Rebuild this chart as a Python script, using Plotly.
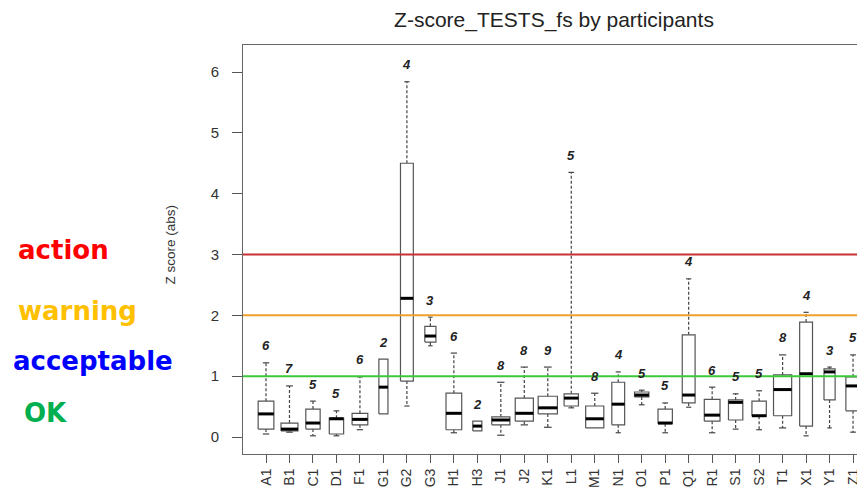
import plotly.graph_objects as go
import math

participants = ["A1","B1","C1","D1","F1","G1","G2","G3","H1","H3","J1","J2","K1",
                "L1","M1","N1","O1","P1","Q1","R1","S1","S2","T1","X1","Y1","Z1"]
n_tests = [6,7,5,5,6,2,4,3,6,2,8,8,9,5,8,4,5,5,4,6,5,5,8,4,3,5]
lower_whisker = [0.05,0.08,0.02,0.02,0.12,0.38,0.51,1.50,0.07,0.10,0.03,0.20,0.16,
                 0.48,0.15,0.07,0.53,0.07,0.49,0.07,0.13,0.12,0.15,0.02,0.15,0.08]
q1 = [0.13,0.10,0.13,0.05,0.20,0.38,0.92,1.56,0.12,0.10,0.20,0.26,0.38,
      0.51,0.15,0.20,0.66,0.22,0.56,0.26,0.28,0.34,0.35,0.18,0.61,0.43]
median = [0.38,0.13,0.23,0.30,0.29,0.82,2.28,1.66,0.39,0.18,0.28,0.39,0.48,
          0.64,0.30,0.54,0.69,0.23,0.69,0.36,0.57,0.35,0.78,1.04,1.07,0.84]
q3 = [0.59,0.23,0.46,0.31,0.39,1.28,4.50,1.82,0.72,0.26,0.33,0.64,0.67,
      0.71,0.51,0.90,0.74,0.46,1.68,0.62,0.61,0.59,1.02,1.89,1.12,0.99]
upper_whisker = [1.22,0.84,0.59,0.43,0.99,1.28,5.84,1.97,1.38,0.26,0.90,1.15,1.15,
                 4.35,0.72,1.07,0.77,0.56,2.60,0.82,0.71,0.76,1.35,2.05,1.15,1.35]

thresholds = [3, 2, 1]
threshold_colors = ["#c83232", "#f0a028", "#3cc83c"]
legend_texts = ["action", "warning", "acceptable", "OK"]
legend_colors = ["#ff0000", "#ffc000", "#0000ff", "#00b050"]

max_n = max(n_tests)
bx, by, medx, medy, wx, wy, cx, cy = [], [], [], [], [], [], [], []
for i, p in enumerate(participants):
    x = i + 1
    hw = 0.41 * math.sqrt(n_tests[i] / max_n)
    cw = hw * 0.4
    bx += [x - hw, x + hw, x + hw, x - hw, x - hw, None]
    by += [q1[i], q1[i], q3[i], q3[i], q1[i], None]
    medx += [x - hw, x + hw, None]
    medy += [median[i], median[i], None]
    if upper_whisker[i] > q3[i]:
        wx += [x, x, None]; wy += [q3[i], upper_whisker[i], None]
        cx += [x - cw, x + cw, None]; cy += [upper_whisker[i], upper_whisker[i], None]
    if lower_whisker[i] < q1[i]:
        wx += [x, x, None]; wy += [q1[i], lower_whisker[i], None]
        cx += [x - cw, x + cw, None]; cy += [lower_whisker[i], lower_whisker[i], None]

fig = go.Figure()
fig.add_trace(go.Scatter(x=wx, y=wy, mode="lines", line=dict(color="#444", width=1.2, dash="3px,2px"),
                         hoverinfo="skip", showlegend=False))
fig.add_trace(go.Scatter(x=cx, y=cy, mode="lines", line=dict(color="#444", width=1.2),
                         hoverinfo="skip", showlegend=False))
fig.add_trace(go.Scatter(x=bx, y=by, mode="lines", fill="toself", fillcolor="white",
                         line=dict(color="#555", width=1.2), hoverinfo="skip", showlegend=False))
fig.add_trace(go.Scatter(x=medx, y=medy, mode="lines", line=dict(color="black", width=3),
                         hoverinfo="skip", showlegend=False))

for t, c in zip(thresholds, threshold_colors):
    fig.add_shape(type="line", xref="paper", x0=0, x1=1, yref="y", y0=t, y1=t,
                  line=dict(color=c, width=2), layer="above")

for i, p in enumerate(participants):
    top = max(upper_whisker[i], q3[i])
    fig.add_annotation(x=i + 1, y=top, text="<b><i>%d</i></b>" % n_tests[i], showarrow=False,
                       yshift=17, font=dict(family="Liberation Sans", size=13, color="#222"))

# page body has an 8px default margin; layout below is in figure pixels
OFF = 8
W, H = 865, 488
L, R, T = 243 - OFF, 0, 45 - OFF
B = H - (454 - OFF)
PW = W - L - R
PH = H - T - B
def px2paper(screen_px):
    return (screen_px - OFF - L) / PW

legend_y = [3.08, 2.07, 1.25, 0.39]
legend_x = [16, 16, 11, 22]
for txt, col, yy, xx in zip(legend_texts, legend_colors, legend_y, legend_x):
    fig.add_annotation(xref="paper", x=px2paper(xx), xanchor="left", yref="y", y=yy,
                       text="<b>%s</b>" % txt, showarrow=False,
                       font=dict(family="DejaVu Sans", size=26, color=col))

fig.add_annotation(xref="paper", x=px2paper(160), yref="paper",
                   y=(H - B - (245 - OFF)) / PH,
                   text="Z score (abs)", textangle=-90, showarrow=False,
                   font=dict(family="Liberation Sans", size=13.5, color="#333"))

fig.update_layout(
    width=W, height=H,
    margin=dict(l=L, r=R, t=T, b=B),
    paper_bgcolor="white", plot_bgcolor="white",
    title=dict(text="Z-score_TESTS_fs by participants", x=(554 - OFF) / W, xanchor="center",
               y=1 - (20 - OFF) / H, yanchor="middle",
               font=dict(family="Liberation Sans", size=21, color="#222")),
    xaxis=dict(range=[0.02, 26.85], tickmode="array", tickvals=list(range(1, 27)),
               ticktext=participants, tickangle=-90, ticks="outside", ticklen=8,
               tickcolor="#555", showgrid=False, zeroline=False, showline=True,
               linecolor="#666", linewidth=1, mirror=True,
               tickfont=dict(family="Liberation Sans", size=14, color="#333")),
    yaxis=dict(range=[-0.279, 6.444], tickvals=[0, 1, 2, 3, 4, 5, 6], ticks="outside",
               ticklen=10, tickcolor="#555", showgrid=False, zeroline=False, showline=True,
               linecolor="#666", linewidth=1, mirror=True, ticklabelstandoff=10,
               tickfont=dict(family="Liberation Sans", size=15, color="#333")),
)

fig.write_html("out.html")
